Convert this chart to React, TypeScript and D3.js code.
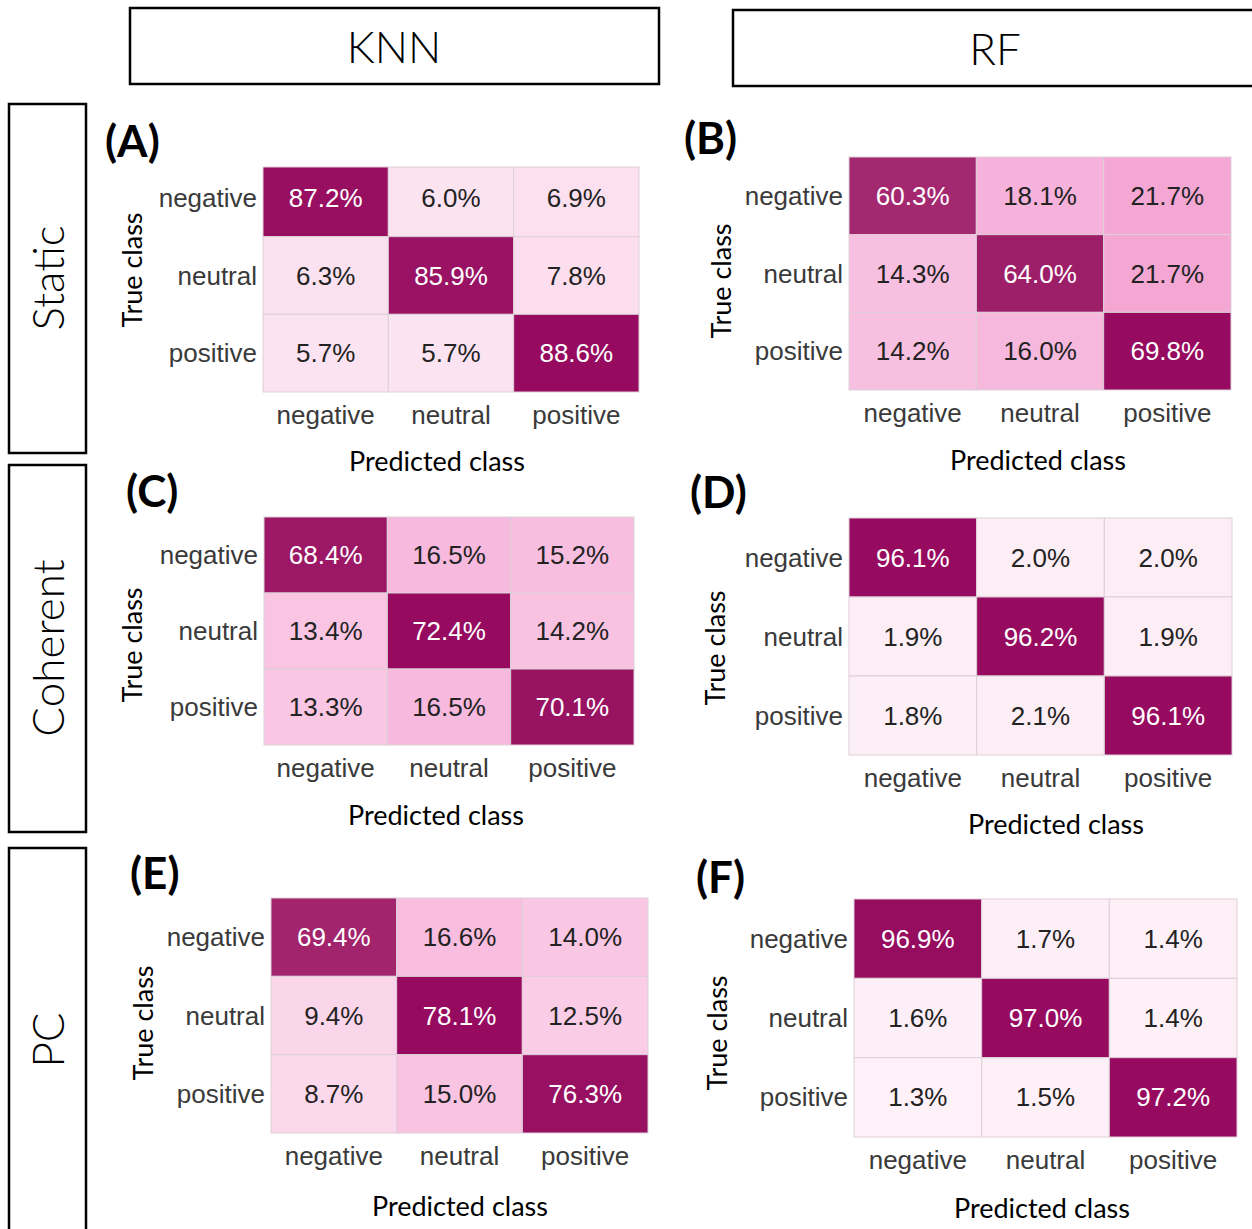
import React from "react";
import * as d3 from "d3";

const classes = ["negative", "neutral", "positive"];
const methods = ["KNN", "RF"];
const conditions = ["Static", "Coherent", "PC"];
const panelTags = ["(A)", "(B)", "(C)", "(D)", "(E)", "(F)"];

const knnStatic = [[87.2, 6.0, 6.9], [6.3, 85.9, 7.8], [5.7, 5.7, 88.6]];
const rfStatic = [[60.3, 18.1, 21.7], [14.3, 64.0, 21.7], [14.2, 16.0, 69.8]];
const knnCoherent = [[68.4, 16.5, 15.2], [13.4, 72.4, 14.2], [13.3, 16.5, 70.1]];
const rfCoherent = [[96.1, 2.0, 2.0], [1.9, 96.2, 1.9], [1.8, 2.1, 96.1]];
const knnPC = [[69.4, 16.6, 14.0], [9.4, 78.1, 12.5], [8.7, 15.0, 76.3]];
const rfPC = [[96.9, 1.7, 1.4], [1.6, 97.0, 1.4], [1.3, 1.5, 97.2]];

const panelData = [knnStatic, rfStatic, knnCoherent, rfCoherent, knnPC, rfPC];

// layout (pixel positions); clipTop crops the top of the matrix as in the source image
const layouts = [
  { x0: 263, x1: 639, y0: 159, y1: 392, clipTop: 167, tx: 105, ty: 140, trueX: 131, trueY: 270, predX: 437, predY: 460 },
  { x0: 849, x1: 1231, y0: 157, y1: 390, clipTop: 157, tx: 684, ty: 137, trueX: 720, trueY: 281, predX: 1038, predY: 459 },
  { x0: 264, x1: 634, y0: 517, y1: 745, clipTop: 517, tx: 126, ty: 490, trueX: 131, trueY: 645, predX: 436, predY: 814 },
  { x0: 849, x1: 1232, y0: 518, y1: 755, clipTop: 518, tx: 690, ty: 491, trueX: 714, trueY: 648, predX: 1056, predY: 823 },
  { x0: 271, x1: 648, y0: 898, y1: 1133, clipTop: 898, tx: 130, ty: 872, trueX: 142, trueY: 1023, predX: 460, predY: 1205 },
  { x0: 854, x1: 1237, y0: 899, y1: 1137, clipTop: 899, tx: 696, ty: 876, trueX: 716, trueY: 1033, predX: 1042, predY: 1207 },
];

const methodBoxes = [
  { x: 130, y: 8, w: 529, h: 76, cx: 394, cy: 46 },
  { x: 733, y: 10, w: 560, h: 76, cx: 995, cy: 48 },
];
const condBoxes = [
  { x: 9, y: 104, w: 77, h: 349, cx: 47, cy: 278 },
  { x: 9, y: 465, w: 77, h: 367, cx: 47, cy: 648 },
  { x: 9, y: 848, w: 77, h: 410, cx: 47, cy: 1040 },
];

// colour by value relative to panel maximum
const color = d3
  .scaleLinear<string>()
  .domain([0, 0.02, 0.07, 0.12, 0.19, 0.23, 0.31, 0.86, 0.92, 1])
  .range(["#fff6fb", "#fdeef6", "#fce2f0", "#fbd6eb", "#f9c4e2", "#f7b8dd", "#f5a7d4", "#a4296f", "#9e1e69", "#960b5f"])
  .clamp(true);

const cellFont = "'Liberation Sans', Arial, sans-serif";
const caliFont = "Lato, 'Open Sans', sans-serif";

function Panel({ data, lay, tag }: any) {
  const x = d3.scaleBand<string>().domain(classes).range([lay.x0, lay.x1]);
  const y = d3.scaleBand<string>().domain(classes).range([lay.y0, lay.y1]);
  const max = d3.max(data.flat() as number[]) as number;
  return (
    <g>
      <text x={lay.tx} y={lay.ty} dominantBaseline="central" fontFamily={caliFont} fontWeight={700} fontSize={44} fill="#000">
        {tag}
      </text>
      {data.map((row: number[], i: number) =>
        row.map((v: number, j: number) => {
          const r = v / max;
          const yy = y(classes[i]) as number;
          const top = Math.max(yy, lay.clipTop);
          const h = yy + y.bandwidth() - top;
          return (
            <g key={`${i}-${j}`}>
              <rect x={x(classes[j])} y={top} width={x.bandwidth()} height={h} fill={color(r)} stroke="#ddd0d7" strokeWidth={1} />
              <text
                x={(x(classes[j]) as number) + x.bandwidth() / 2}
                y={yy + y.bandwidth() / 2}
                textAnchor="middle"
                dominantBaseline="central"
                fontFamily={cellFont}
                fontSize={26}
                fill={r > 0.5 ? "#fff" : "#222"}
              >
                {v.toFixed(1)}%
              </text>
            </g>
          );
        })
      )}
      {classes.map((c) => (
        <text key={"r" + c} x={lay.x0 - 6} y={(y(c) as number) + y.bandwidth() / 2} textAnchor="end" dominantBaseline="central" fontFamily={cellFont} fontSize={26} fill="#3a3a3a">
          {c}
        </text>
      ))}
      {classes.map((c) => (
        <text key={"c" + c} x={(x(c) as number) + x.bandwidth() / 2} y={lay.y1 + 23} textAnchor="middle" dominantBaseline="central" fontFamily={cellFont} fontSize={26} fill="#3a3a3a">
          {c}
        </text>
      ))}
      <text x={lay.predX} y={lay.predY} textAnchor="middle" dominantBaseline="central" fontFamily={caliFont} fontSize={27} fill="#000">
        Predicted class
      </text>
      <text
        transform={`translate(${lay.trueX},${lay.trueY}) rotate(-90)`}
        textAnchor="middle"
        dominantBaseline="central"
        fontFamily={caliFont}
        fontSize={27}
        fill="#000"
      >
        True class
      </text>
    </g>
  );
}

export default function App() {
  return (
    <div style={{ position: "absolute", left: 0, top: 0 }}>
      <svg width={1252} height={1229} style={{ display: "block", background: "#fff" }}>
        <rect x={0} y={0} width={1252} height={1229} fill="#fff" />
        {methodBoxes.map((b, i) => (
          <g key={methods[i]}>
            <rect x={b.x} y={b.y} width={b.w} height={b.h} fill="none" stroke="#000" strokeWidth={2.5} />
            <text x={b.cx} y={b.cy} textAnchor="middle" dominantBaseline="central" fontFamily={caliFont} fontWeight={300} fontSize={44} fill="#000">
              {methods[i]}
            </text>
          </g>
        ))}
        {condBoxes.map((b, i) => (
          <g key={conditions[i]}>
            <rect x={b.x} y={b.y} width={b.w} height={b.h} fill="none" stroke="#000" strokeWidth={2.5} />
            <text
              transform={`translate(${b.cx},${b.cy}) rotate(-90)`}
              textAnchor="middle"
              dominantBaseline="central"
              fontFamily={caliFont}
              fontWeight={300}
              fontSize={44}
              fill="#000"
            >
              {conditions[i]}
            </text>
          </g>
        ))}
        {panelData.map((d, k) => (
          <Panel key={k} data={d} lay={layouts[k]} tag={panelTags[k]} />
        ))}
      </svg>
    </div>
  );
}
